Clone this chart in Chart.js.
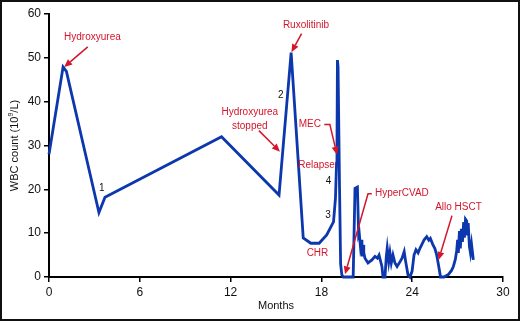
<!DOCTYPE html>
<html>
<head>
<meta charset="utf-8">
<script src="https://cdn.jsdelivr.net/npm/chart.js@4.4.1/dist/chart.umd.min.js"></script>
<style>
  html, body { margin: 0; padding: 0; background: #fff; }
  canvas { display: block; }
</style>
</head>
<body>
<canvas id="wbcChart" width="520" height="321"></canvas>
<script>
// WBC count over time (months)
const months = [
  0, 0.93, 1.15, 3.3, 3.7, 11.4, 15.2, 16.0, 16.8, 17.3, 17.85, 18.35, 18.8, 18.93, 19.0, 19.03,
  19.06, 19.1, 19.2, 19.27, 19.35, 19.45, 20.1, 20.22, 20.38, 20.46, 20.5, 20.57, 20.62, 20.68,
  20.75, 20.8, 20.88, 21.08, 21.34, 21.54, 21.7, 21.81, 22.0, 22.07, 22.2, 22.29, 22.35, 22.45,
  22.53, 22.62, 22.73, 22.86, 23.0, 23.2, 23.33, 23.47, 23.57, 23.72, 23.85, 23.99, 24.12, 24.25,
  24.39, 24.52, 24.65, 24.79, 24.96, 25.1, 25.2, 25.35, 25.5, 25.62, 25.7, 25.8, 25.87, 26.1,
  26.4, 26.6, 26.72, 26.85, 26.94, 27.0, 27.05, 27.12, 27.18, 27.25, 27.32, 27.4, 27.45, 27.52,
  27.6, 27.65, 27.7, 27.78, 27.85, 27.92, 28.04
];
const wbc = [
  28, 47.9, 46.9, 14.7, 18.2, 32.0, 18.7, 51.2, 8.9, 7.7, 7.7, 9.6, 12.6, 18, 26, 30,
  49.5, 48, 20, 3, 0.5, 0, 0, 20.2, 20.5, 9.6, 10, 7.3, 8.5, 4.7,
  7.3, 5.5, 4.3, 3.2, 3.9, 4.7, 4.3, 5, 2.4, 0, 0, 4.7, 6.6, 3.5,
  5.5, 3.2, 5, 3.2, 2.4, 3.5, 4.3, 5.8, 3.5, 0.5, 0, 1.3, 5, 6.2,
  5.5, 6.6, 7.5, 8.5, 9.2, 8.4, 8.8, 7.5, 6.5, 5, 3.5, 1.5, 0, 0,
  0.6, 1.5, 2.4, 4, 6, 8.5, 5.5, 10.5, 6.5, 11, 8, 12.5, 9, 13.2,
  12.8, 9.5, 12.3, 7, 5.5, 7.5, 3.9
];
const xTicks = [0, 6, 12, 18, 24, 30];
const yTicks = [0, 10, 20, 30, 40, 50, 60];

const RED = '#d3162b';
const LINE_BLUE = '#0c37ad';
const FONT = '"Liberation Sans", Arial, Helvetica, sans-serif';
const NARROW = '"Liberation Sans Narrow", "Liberation Sans", Arial, sans-serif';

// annotation text, placed in data units
const notes = [
  { lines: ['Hydroxyurea'], x: 2.87, y: 54.8, color: RED },
  { lines: ['Hydroxyurea', 'stopped'], x: 13.27, y: 37.5, color: RED },
  { lines: ['Ruxolitinib'], x: 16.98, y: 57.4, color: RED },
  { lines: ['MEC'], x: 17.24, y: 34.8, color: RED },
  { lines: ['Relapse'], x: 17.68, y: 25.6, color: RED },
  { lines: ['CHR'], x: 17.74, y: 5.5, color: RED },
  { lines: ['HyperCVAD'], x: 23.32, y: 19.0, color: RED },
  { lines: ['Allo HSCT'], x: 27.06, y: 15.9, color: RED },
  { lines: ['1'], x: 3.49, y: 20.2, color: '#111' },
  { lines: ['2'], x: 15.32, y: 41.4, color: '#111' },
  { lines: ['3'], x: 18.43, y: 14.2, color: '#111' },
  { lines: ['4'], x: 18.47, y: 21.8, color: '#111' }
];
// arrows: polyline in data units, last point is the tip
const arrows = [
  [[2.56, 52.5], [1.0, 47.9]],
  [[13.87, 33.4], [15.26, 28.6]],
  [[16.69, 55.5], [16.02, 51.3]],
  [[18.19, 34.8], [18.56, 34.8], [19.03, 27.9]],
  [[21.33, 19.0], [21.08, 19.0], [19.56, 0.6]],
  [[26.63, 14.0], [25.74, 3.9]]
];

const annotationPlugin = {
  id: 'notes',
  afterDatasetsDraw(chart) {
    const { ctx, scales: { x, y } } = chart;
    ctx.save();
    ctx.font = '10px ' + FONT;
    ctx.textAlign = 'center';
    ctx.textBaseline = 'middle';
    notes.forEach(n => {
      ctx.fillStyle = n.color;
      n.lines.forEach((t, i) => {
        ctx.fillText(t, x.getPixelForValue(n.x), y.getPixelForValue(n.y) + i * 14);
      });
    });

    ctx.strokeStyle = RED;
    ctx.fillStyle = RED;
    ctx.lineWidth = 1.5;
    arrows.forEach(a => {
      const pts = a.map(p => [x.getPixelForValue(p[0]), y.getPixelForValue(p[1])]);
      const [tx, ty] = pts[pts.length - 1];
      const [px, py] = pts[pts.length - 2];
      const ang = Math.atan2(ty - py, tx - px);
      const head = 8, half = 3.5;
      const bx = tx - head * Math.cos(ang), by = ty - head * Math.sin(ang);
      ctx.beginPath();
      ctx.moveTo(pts[0][0], pts[0][1]);
      for (let i = 1; i < pts.length - 1; i++) ctx.lineTo(pts[i][0], pts[i][1]);
      ctx.lineTo(bx, by);
      ctx.stroke();
      ctx.beginPath();
      ctx.moveTo(tx, ty);
      ctx.lineTo(bx + half * Math.sin(ang), by - half * Math.cos(ang));
      ctx.lineTo(bx - half * Math.sin(ang), by + half * Math.cos(ang));
      ctx.closePath();
      ctx.fill();
    });

    // axis titles
    const area = chart.chartArea;
    ctx.fillStyle = '#111';
    ctx.font = '11px ' + NARROW;
    ctx.fillText('Months', (area.left + area.right) / 2, 306);

    ctx.translate(15, (area.top + area.bottom) / 2);
    ctx.rotate(-Math.PI / 2);
    const p1 = 'WBC count (10', p2 = '9', p3 = '/L)';
    ctx.font = '11px ' + NARROW;
    const w1 = ctx.measureText(p1).width, w3 = ctx.measureText(p3).width;
    ctx.font = '7px ' + NARROW;
    const w2 = ctx.measureText(p2).width;
    let sx = -(w1 + w2 + w3) / 2;
    ctx.textAlign = 'left';
    ctx.font = '11px ' + NARROW;
    ctx.fillText(p1, sx, 0);
    ctx.font = '7px ' + NARROW;
    ctx.fillText(p2, sx + w1, -4);
    ctx.font = '11px ' + NARROW;
    ctx.fillText(p3, sx + w1 + w2, 0);
    ctx.restore();

    // frame round the figure
    ctx.save();
    ctx.strokeStyle = '#111';
    ctx.lineWidth = 2;
    ctx.strokeRect(1, 1, chart.width - 2, chart.height - 2);
    ctx.restore();
  }
};

new Chart(document.getElementById('wbcChart'), {
  type: 'line',
  data: {
    datasets: [{
      data: months.map((m, i) => ({ x: m, y: wbc[i] })),
      borderColor: LINE_BLUE,
      borderWidth: 2.8,
      pointRadius: 0,
      tension: 0,
      clip: false
    }]
  },
  options: {
    responsive: false,
    animation: false,
    devicePixelRatio: 1,
    layout: { padding: { left: 0, top: 14, right: 17, bottom: 0 } },
    plugins: { legend: { display: false }, tooltip: { enabled: false } },
    scales: {
      x: {
        type: 'linear',
        min: 0, max: 30,
        afterBuildTicks: s => { s.ticks = xTicks.map(v => ({ value: v })); },
        afterFit: s => { s.height = 44; },
        ticks: { color: '#111', font: { size: 12, family: FONT }, padding: 3 },
        grid: { drawOnChartArea: false, tickLength: 5, color: '#000', lineWidth: 1.5 },
        border: { color: '#000', width: 2 }
      },
      y: {
        min: 0, max: 60,
        afterBuildTicks: s => { s.ticks = yTicks.map(v => ({ value: v })); },
        afterFit: s => { s.width = 49; },
        ticks: { color: '#111', font: { size: 12, family: FONT }, padding: 3 },
        grid: { drawOnChartArea: false, tickLength: 5, color: '#000', lineWidth: 1.5 },
        border: { color: '#000', width: 2 }
      }
    }
  },
  plugins: [annotationPlugin]
});
</script>
</body>
</html>
